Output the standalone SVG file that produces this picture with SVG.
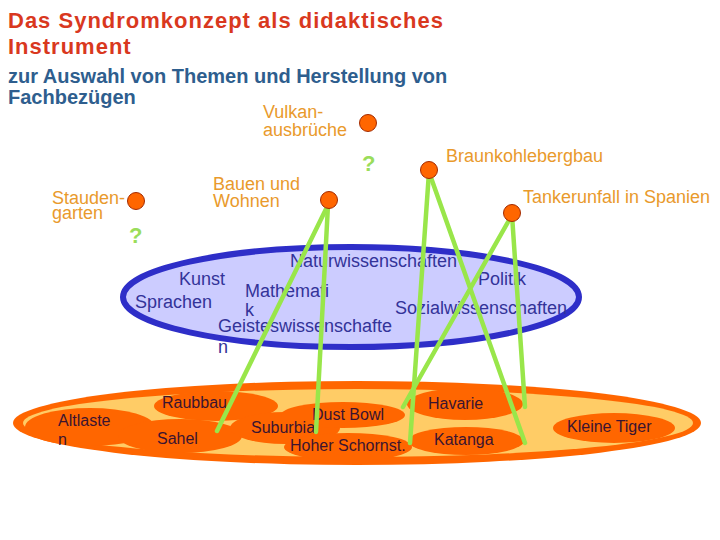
<svg xmlns="http://www.w3.org/2000/svg" width="720" height="540" viewBox="0 0 720 540">
<style>
text{font-family:"Liberation Sans",Arial,sans-serif}
.title{font-size:22px;font-weight:bold;fill:#D9381E;letter-spacing:1px}
.sub{font-size:20px;font-weight:bold;fill:#2E5E8E}
.lab{font-size:18px;fill:#E99A2C}
.q{font-size:22px;font-weight:bold;fill:#9ADD5A}
.ball{fill:#FF6600;stroke:#A32A00;stroke-width:1}
.blue{font-size:18px;fill:#333399}
.syn{font-size:16px;fill:#3B1430}
.blob{fill:#FF6600}
.conn{stroke:#99E64A;stroke-width:4.5;stroke-linecap:round;fill:none}
</style>
<rect width="720" height="540" fill="#FFFFFF"/>
<g id="title">
<text class="title" x="8" y="28">Das Syndromkonzept als didaktisches</text>
<text class="title" x="8" y="54">Instrument</text>
<text class="sub" x="8" y="83">zur Auswahl von Themen und Herstellung von</text>
<text class="sub" x="8" y="104">Fachbezügen</text>
</g>
<g id="faecher">
<ellipse cx="351" cy="297" rx="228" ry="50" fill="#CCCCFF" stroke="#2E2EC8" stroke-width="6"/>
<text class="blue" x="290" y="267">Naturwissenschaften</text>
<text class="blue" x="179" y="285">Kunst</text>
<text class="blue" x="478" y="285">Politik</text>
<text class="blue" x="245" y="297">Mathemati</text>
<text class="blue" x="245" y="316">k</text>
<text class="blue" x="135" y="308">Sprachen</text>
<text class="blue" x="395" y="314">Sozialwissenschaften</text>
<text class="blue" x="218" y="332">Geisteswissenschafte</text>
<text class="blue" x="218" y="353">n</text>
</g>
<g id="syndrome">
<ellipse cx="357" cy="423" rx="344" ry="42" fill="#FF6600"/>
<ellipse cx="358" cy="423" rx="335" ry="34" fill="#FFCC66"/>
<ellipse class="blob" cx="90" cy="427" rx="65" ry="19"/>
<ellipse class="blob" cx="216" cy="406" rx="62" ry="15"/>
<ellipse class="blob" cx="180" cy="436" rx="62" ry="17"/>
<ellipse class="blob" cx="285" cy="428" rx="55" ry="16"/>
<ellipse class="blob" cx="343" cy="415" rx="62" ry="13"/>
<ellipse class="blob" cx="348" cy="447" rx="64" ry="14"/>
<ellipse class="blob" cx="465" cy="404" rx="58" ry="16"/>
<ellipse class="blob" cx="466" cy="441" rx="58" ry="14"/>
<ellipse class="blob" cx="614" cy="428" rx="61" ry="15"/>
<text class="syn" x="162" y="408">Raubbau</text>
<text class="syn" x="58" y="426">Altlaste</text>
<text class="syn" x="58" y="445">n</text>
<text class="syn" x="157" y="444">Sahel</text>
<text class="syn" x="251" y="433">Suburbia</text>
<text class="syn" x="312" y="420">Dust Bowl</text>
<text class="syn" x="290" y="451">Hoher Schornst.</text>
<text class="syn" x="428" y="409">Havarie</text>
<text class="syn" x="434" y="445">Katanga</text>
<text class="syn" x="567" y="432">Kleine Tiger</text>
</g>
<g id="connectors">
<line class="conn" x1="328" y1="205" x2="217" y2="431"/>
<line class="conn" x1="328" y1="205" x2="316" y2="432"/>
<line class="conn" x1="429" y1="172" x2="410" y2="443"/>
<line class="conn" x1="429" y1="172" x2="525" y2="443"/>
<line class="conn" x1="512" y1="215" x2="403" y2="407"/>
<line class="conn" x1="512" y1="215" x2="525" y2="407"/>
</g>
<g id="vulkan">
<circle class="ball" cx="368" cy="123" r="8.5"/>
<text class="lab" x="263" y="118">Vulkan-</text>
<text class="lab" x="263" y="136">ausbrüche</text>
<text class="q" x="362" y="171">?</text>
</g>
<g id="braunkohle">
<circle class="ball" cx="429" cy="170" r="8.5"/>
<text class="lab" x="446" y="162">Braunkohlebergbau</text>
</g>
<g id="bauen">
<circle class="ball" cx="329" cy="200" r="8.5"/>
<text class="lab" x="213" y="190">Bauen und</text>
<text class="lab" x="213" y="207">Wohnen</text>
</g>
<g id="tanker">
<circle class="ball" cx="512" cy="213" r="8.5"/>
<text class="lab" x="523" y="203">Tankerunfall in Spanien</text>
</g>
<g id="stauden">
<circle class="ball" cx="136" cy="201" r="8.5"/>
<text class="lab" x="52" y="204">Stauden-</text>
<text class="lab" x="52" y="219">garten</text>
<text class="q" x="129" y="243">?</text>
</g>
</svg>
